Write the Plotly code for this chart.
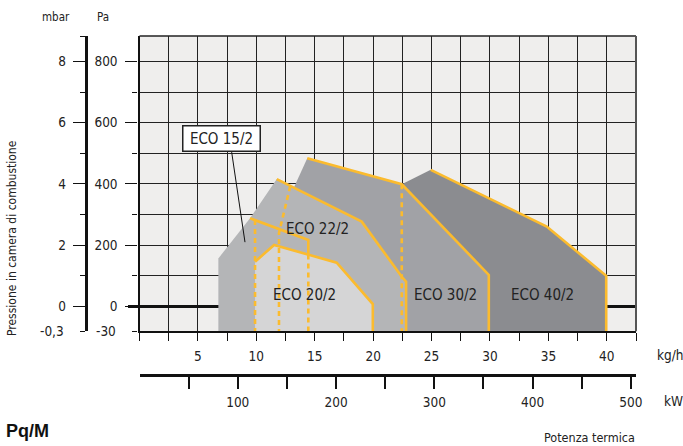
import plotly.graph_objects as go

# ------------------------------------------------------------------ data
# axis ticks
kgh_tickvals = [0, 2.5, 5, 7.5, 10, 12.5, 15, 17.5, 20, 22.5, 25, 27.5, 30, 32.5, 35, 37.5, 40, 42.5]
kgh_ticktext = ["", "", "5", "", "10", "", "15", "", "20", "", "25", "", "30", "", "35", "", "40", ""]
kw_tickvals = [50, 100, 150, 200, 250, 300, 350, 400, 450, 500]
kw_ticktext = ["", "100", "", "200", "", "300", "", "400", "", "500"]
pa_tickvals = [0, 200, 400, 600, 800]
pa_ticktext = ["0", "200", "400", "600", "800"]
pa_minorvals = [100, 300, 500, 700]
mbar_tickvals = [0, 2, 4, 6, 8]
mbar_ticktext = ["0", "2", "4", "6", "8"]
mbar_minorvals = [1, 3, 5, 7]

# working fields: top profile (kg/h, Pa), left to right
eco40_kg = [22.45, 24.93, 34.86, 39.95]
eco40_pa = [399, 446, 261, 100]
eco30_kg = [13.21, 14.36, 22.45, 29.9]
eco30_pa = [388, 484, 399, 103]
eco22_kg = [9.46, 11.75, 19.02, 22.45, 22.82]
eco22_pa = [288, 416, 277, 97, 81]
eco15_kg = [6.75, 9.46, 14.45]
eco15_pa = [157, 288, 217]
eco20_kg = [9.89, 11.52, 16.88, 19.97]
eco20_pa = [146, 201, 143, 8]

# dashed internal boundaries (kg/h, top Pa)
dash_kg = [9.89, 14.45, 22.45]
dash_top_pa = [282, 170, 399]
dash22_kg = [12.9, 11.94, 11.94]
dash22_pa = [392, 240]

# ------------------------------------------------------------------ style
FONT = "DejaVu Sans Condensed, Liberation Sans Narrow, Arial Narrow, sans-serif"
TXT = "#222222"
YEL = "#fbbb2e"
BG = "#efeeed"
C40, C30, C22, C15, C20 = "#8b8c90", "#a1a2a6", "#b4b5b7", "#b4b5b7", "#d5d5d6"
pa_range = [-81, 883]
floor = pa_range[0]

W, H = 683, 446
ML, MR, MT, MB = 40, 47, 36, 40


def px(xp):
    return (xp - ML) / (W - ML - MR)


def py(yp):
    return (H - MB - yp) / (H - MT - MB)


fig = go.Figure()


def field(kg, pa, color):
    fig.add_trace(go.Scatter(x=[kg[0]] + kg + [kg[-1]], y=[floor] + pa + [floor],
                             mode="lines", fill="toself", fillcolor=color,
                             line=dict(width=0, color=color), hoverinfo="skip"))


def outline(kg, pa, start):
    fig.add_trace(go.Scatter(x=kg[start:] + [kg[-1]], y=pa[start:] + [floor],
                             mode="lines", line=dict(color=YEL, width=2.6),
                             hoverinfo="skip"))


field(eco40_kg, eco40_pa, C40)
field(eco30_kg, eco30_pa, C30)
field(eco22_kg, eco22_pa, C22)
field(eco15_kg, eco15_pa, C15)
outline(eco15_kg, eco15_pa, 1)
field(eco20_kg, eco20_pa, C20)
outline(eco20_kg, eco20_pa, 0)
outline(eco22_kg, eco22_pa, 1)
outline(eco30_kg, eco30_pa, 1)
outline(eco40_kg, eco40_pa, 1)

for k, top in zip(dash_kg, dash_top_pa):
    fig.add_trace(go.Scatter(x=[k, k], y=[top, floor], mode="lines",
                             line=dict(color=YEL, width=2.6, dash="5px,4px"),
                             hoverinfo="skip"))
fig.add_trace(go.Scatter(x=dash22_kg, y=dash22_pa + [floor], mode="lines",
                         line=dict(color=YEL, width=2.6, dash="5px,4px"),
                         hoverinfo="skip"))

# dummy traces to activate extra axes
fig.add_trace(go.Scatter(x=[None], y=[None], xaxis="x2", yaxis="y", showlegend=False))
fig.add_trace(go.Scatter(x=[None], y=[None], xaxis="x", yaxis="y2", showlegend=False))

x0 = px(139.5)
tickfont = dict(family=FONT, size=13.5, color=TXT)

fig.update_layout(
    width=W, height=H, margin=dict(l=ML, r=MR, t=MT, b=MB),
    paper_bgcolor="white", plot_bgcolor=BG, showlegend=False,
    xaxis=dict(domain=[x0, 1], range=[0, 42.5], tickmode="array",
               tickvals=kgh_tickvals, ticktext=kgh_ticktext,
               showgrid=True, gridcolor="#222", gridwidth=1,
               zeroline=False, showline=True, linecolor="#111", linewidth=2.2,
               ticks="outside", ticklen=8, tickwidth=1.3, tickcolor="#111",
               tickfont=tickfont, ticklabelstandoff=3, anchor="y"),
    xaxis2=dict(overlaying="x", anchor="free", position=py(374.7), side="bottom",
                range=[0, 505.3], tickmode="array", tickvals=kw_tickvals,
                ticktext=kw_ticktext, showgrid=False, zeroline=False,
                showline=True, linecolor="#111", linewidth=2.6,
                ticks="outside", ticklen=12, tickwidth=1.5, tickcolor="#111",
                tickfont=tickfont, ticklabelstandoff=2),
    yaxis=dict(domain=[py(331.3), 1], range=pa_range, tickmode="array",
               tickvals=pa_tickvals, ticktext=pa_ticktext,
               showgrid=True, gridcolor="#222", gridwidth=1,
               zeroline=True, zerolinecolor="#111", zerolinewidth=3,
               showline=True, linecolor="#111", linewidth=2.4,
               ticks="outside", ticklen=12, tickwidth=1.3, tickcolor="#111",
               tickfont=tickfont, ticklabelstandoff=5, anchor="x",
               minor=dict(tickmode="array", tickvals=pa_minorvals + [floor + 0.5],
                          ticklen=5, tickwidth=1.3, tickcolor="#111", ticks="outside",
                          showgrid=True, gridcolor="#222", gridwidth=1)),
    yaxis2=dict(overlaying="y", anchor="free", position=px(85.5), side="left",
                range=[pa_range[0] / 100, pa_range[1] / 100], tickmode="array",
                tickvals=mbar_tickvals, ticktext=mbar_ticktext,
                showgrid=False, zeroline=False, showline=True,
                linecolor="#111", linewidth=2.6,
                ticks="outside", ticklen=12, tickwidth=1.3, tickcolor="#111",
                tickfont=tickfont, ticklabelstandoff=4,
                minor=dict(tickmode="array",
                           tickvals=mbar_minorvals + [floor / 100 + 0.005, pa_range[1] / 100 - 0.01],
                           ticklen=5, tickwidth=1.3, tickcolor="#111", ticks="outside",
                           showgrid=False)),
)

# borders
fig.add_shape(type="line", xref="x domain", yref="y domain", x0=0, x1=1, y0=1, y1=1,
              line=dict(color="#222", width=1.5))
fig.add_shape(type="line", xref="x domain", yref="y domain", x0=1, x1=1, y0=0, y1=1,
              line=dict(color="#555", width=2))
# thick 0 tick on Pa axis
fig.add_shape(type="line", xref="paper", yref="y", x0=px(128), x1=px(139.5), y0=0, y1=0,
              line=dict(color="#111", width=3))

ann = []


def text(x, y, t, size=13.5, xanchor="center", yanchor="middle", xref="paper", yref="paper", **kw):
    ann.append(dict(x=x, y=y, xref=xref, yref=yref, text=t, showarrow=False,
                    xanchor=xanchor, yanchor=yanchor,
                    font=dict(family=FONT, size=size, color=TXT), **kw))


text(px(56), py(16.7), "mbar", 11.5)
text(px(103), py(16.7), "Pa", 11.5)
text(px(118.3), -81, "-30", xanchor="right", yref="y")
text(px(65.7), -81, "-0,3", xanchor="right", yref="y")
text(px(12), py(238), "Pressione in camera di combustione", 12, textangle=-90)
text(px(655), py(355), "kg/h", 13.5, xanchor="left")
text(px(662), py(401), "kW", 13.5, xanchor="left")
text(px(637), py(437), "Potenza termica", 12.5, xanchor="right")
ann.append(dict(x=px(4), y=py(419), xref="paper", yref="paper", text="<b>Pq/M</b>",
                showarrow=False, xanchor="left", yanchor="top",
                font=dict(family="Liberation Sans, Arial, sans-serif", size=18, color="#111")))

# field labels
text(15.26, 253, "ECO 22/2", 15, xref="x", yref="y")
text(14.14, 39, "ECO 20/2", 15, xref="x", yref="y")
text(26.2, 39, "ECO 30/2", 15, xref="x", yref="y")
text(34.53, 39, "ECO 40/2", 15, xref="x", yref="y")
text(px(221.2), py(138.8), "ECO 15/2", 15, bgcolor="white", bordercolor="#222",
     borderwidth=1.5, borderpad=1.5, width=73, height=21)
fig.update_layout(annotations=ann)

# leader line from ECO 15/2 label
fig.add_shape(type="line", xref="x", yref="y", x0=7.89, y0=504, x1=9.03, y1=210,
              line=dict(color="#111", width=1))

fig.write_html("out.html", config={"displayModeBar": False},
               post_script="document.body.style.margin='0';")
